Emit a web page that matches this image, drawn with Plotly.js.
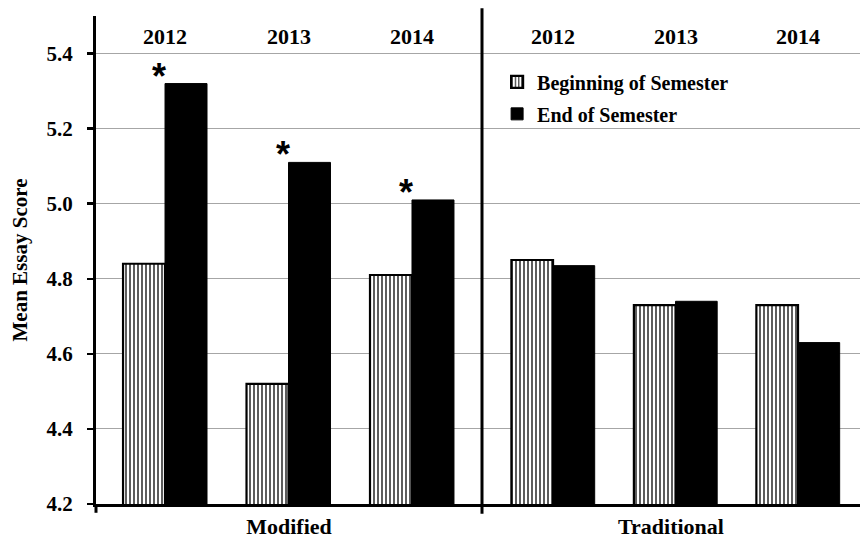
<!DOCTYPE html>
<html>
<head>
<meta charset="utf-8">
<script src="https://cdn.plot.ly/plotly-3.0.1.min.js"></script>
<style>html,body{margin:0;padding:0;background:#fff;}#chart{width:860px;height:543px;}</style>
</head>
<body>
<div id="chart"></div>
<script>
// ---- data ----
var years = ['2012', '2013', '2014'];
var groups = ['Modified', 'Traditional'];
var seriesNames = ['Beginning of Semester', 'End of Semester'];
var modifiedBeginning = [4.84, 4.52, 4.81];
var modifiedEnd = [5.32, 5.11, 5.01];
var traditionalBeginning = [4.85, 4.73, 4.73];
var traditionalEnd = [4.835, 4.74, 4.63];
var significant = [true, true, true]; // Modified: End vs Beginning
var yTicks = [4.2, 4.4, 4.6, 4.8, 5.0, 5.2, 5.4];

var serif = 'Liberation Serif, Times New Roman, serif';
var stripe = {color: '#ffffff', line: {color: '#000', width: 2.2},
  pattern: {shape: '|', fgcolor: '#000', bgcolor: '#fff', size: 4, solidity: 0.32}};
var solid = {color: '#000', line: {color: '#000', width: 1}};

var traces = [
  {type: 'bar', name: seriesNames[0], x: years, y: modifiedBeginning, xaxis: 'x', yaxis: 'y',
   marker: stripe, legendgroup: 'b', showlegend: true, hoverinfo: 'y'},
  {type: 'bar', name: seriesNames[1], x: years, y: modifiedEnd, xaxis: 'x', yaxis: 'y',
   marker: solid, legendgroup: 'e', showlegend: true, hoverinfo: 'y'},
  {type: 'bar', name: seriesNames[0], x: years, y: traditionalBeginning, xaxis: 'x2', yaxis: 'y',
   marker: stripe, legendgroup: 'b', showlegend: false, hoverinfo: 'y'},
  {type: 'bar', name: seriesNames[1], x: years, y: traditionalEnd, xaxis: 'x2', yaxis: 'y',
   marker: solid, legendgroup: 'e', showlegend: false, hoverinfo: 'y'}
];

var split = 386 / 764;
var annotations = [];
years.forEach(function (yr, i) {
  ['x', 'x2'].forEach(function (ax) {
    annotations.push({text: yr, xref: ax, x: i, yref: 'paper', y: 0.957, yanchor: 'middle',
      showarrow: false, font: {family: serif, size: 22, color: '#000', weight: 'bold'}});
  });
});
years.forEach(function (yr, i) {
  if (significant[i]) {
    annotations.push({text: '*', xref: 'x', x: i, yref: 'y', y: modifiedEnd[i], yanchor: 'bottom',
      xshift: -6, yshift: -15, showarrow: false,
      font: {family: 'Liberation Sans, Arial, sans-serif', size: 36, color: '#000', weight: 'bold'}});
  }
});

var xCommon = {type: 'category', showline: true, linecolor: '#000', linewidth: 3,
  ticks: '', showticklabels: false, showgrid: false, zeroline: false, anchor: 'y', fixedrange: true,
  title: {font: {family: serif, size: 22, color: '#000', weight: 'bold'}, standoff: 13}};

var layout = {
  width: 860, height: 543,
  margin: {l: 96, r: 0, t: 16, b: 39},
  paper_bgcolor: '#fff', plot_bgcolor: '#fff',
  barmode: 'group', bargap: 0.32, bargroupgap: 0,
  showlegend: true,
  legend: {x: 0.525, xanchor: 'left', y: 0.905, yanchor: 'top', traceorder: 'grouped',
    tracegroupgap: 3, bgcolor: 'rgba(0,0,0,0)',
    font: {family: serif, size: 20, color: '#000', weight: 'bold'}},
  xaxis: Object.assign({}, xCommon, {domain: [0, split], range: [-0.559, 2.567],
    title: Object.assign({}, xCommon.title, {text: groups[0]})}),
  xaxis2: Object.assign({}, xCommon, {domain: [split, 1], range: [-0.58, 2.506],
    title: Object.assign({}, xCommon.title, {text: groups[1]})}),
  yaxis: {range: [4.2, 5.5], tickvals: yTicks, tickformat: '.1f', showline: true, linecolor: '#000',
    linewidth: 3, ticks: 'outside', ticklen: 6, tickwidth: 2.5, tickcolor: '#000',
    ticklabelstandoff: 10,
    showgrid: true, gridcolor: '#a6a6a6', gridwidth: 1, zeroline: false, fixedrange: true,
    tickfont: {family: serif, size: 21, color: '#000', weight: 'bold'},
    title: {text: 'Mean Essay Score', standoff: 14,
      font: {family: serif, size: 21, color: '#000', weight: 'bold'}}},
  annotations: annotations,
  shapes: [
    {type: 'line', xref: 'paper', yref: 'paper', x0: split, x1: split, y0: -0.02, y1: 1.016,
     line: {color: '#000', width: 3}},
    {type: 'line', xref: 'paper', yref: 'paper', x0: 0, x1: 0, y0: -0.018, y1: 0,
     line: {color: '#000', width: 3}}
  ]
};

Plotly.newPlot('chart', traces, layout, {displayModeBar: false, staticPlot: true});
</script>
</body>
</html>
